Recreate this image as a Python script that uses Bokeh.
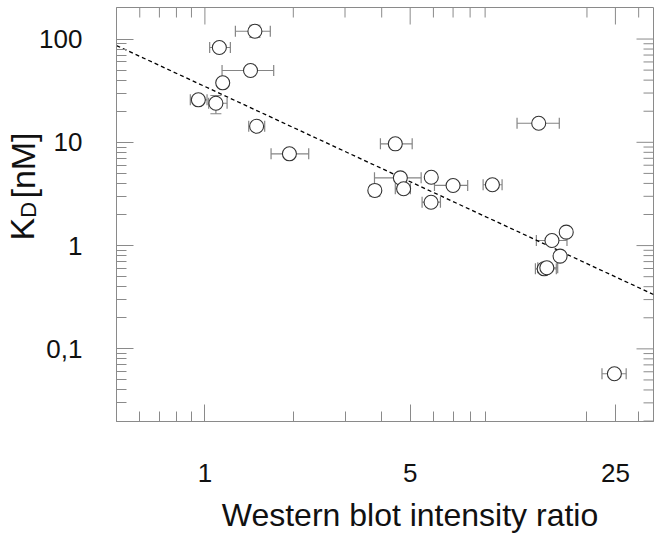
import numpy as np
from bokeh.plotting import figure
from bokeh.models import (FixedTicker, CustomJSTickFormatter, Range1d, LinearAxis,
                          LinearScale)
from bokeh.embed import file_html
from bokeh.resources import INLINE

# ---- data ----
ratio = [1.48, 1.12, 1.43, 1.15, 0.95, 1.09, 1.50, 1.94, 4.45, 4.63, 3.79, 4.75,
         5.90, 7.00, 9.53, 5.89, 13.7, 15.2, 17.0, 16.2, 14.3, 14.6, 24.8]
ratio_lo = [1.27, 1.038, 1.144, 1.15, 0.892, 1.030, 1.41, 1.68, 3.96, 3.78, 3.79, 4.45,
            5.90, 6.05, 8.86, 5.49, 11.56, 13.45, 17.0, 16.2, 13.35, 13.6, 22.5]
ratio_hi = [1.67, 1.221, 1.715, 1.15, 1.017, 1.190, 1.598, 2.257, 5.08, 5.45, 3.79, 5.01,
            5.90, 7.85, 10.28, 6.34, 16.1, 17.1, 17.0, 16.2, 15.73, 15.9, 27.2]
kd = [119, 82.8, 49.6, 37.7, 25.8, 23.9, 14.3, 7.74, 9.67, 4.53, 3.42, 3.55,
      4.59, 3.82, 3.88, 2.63, 15.3, 1.12, 1.35, 0.79, 0.596, 0.61, 0.0574]

# points with vertical error bars
yerr_ratio = [1.48, 1.09, 3.79]
yerr_lo = [104, 18.9, 3.01]
yerr_hi = [136, 28.4, 3.82]

# regression line end points
fit_x = [0.5, 33.7]
fit_y = [86.5, 0.336]

x_major = [1, 5, 25]
x_minor = [0.6, 0.7, 0.8, 0.9, 2, 3, 4, 6, 7, 8, 9, 20, 30]
y_major = [0.1, 1, 10, 100]
y_minor = [0.02, 0.03, 0.04, 0.05, 0.06, 0.07, 0.08, 0.09,
           0.2, 0.3, 0.4, 0.5, 0.6, 0.7, 0.8, 0.9,
           2, 3, 4, 5, 6, 7, 8, 9,
           20, 30, 40, 50, 60, 70, 80, 90]

x_label = "Western blot intensity ratio"
y_label_main, y_label_sub, y_label_unit = "K", "D", "[nM]"

# ---- layout constants ----
X0, X1 = 0.5, 33.7
Y0, Y1 = 0.0198, 202
FL, FR, FT, FB = 116, 653, 7, 421      # frame edges in canvas pixels
XLAB_CX = 409.5                         # centre of x title
K_CY, D_CY, U_CY = 228.6, 209.4, 165.0  # centres of the y-title pieces

GRAY = "#8a8a8a"
BAR = "#858585"
FONT = "Liberation Sans"
TXT = "#111111"

p = figure(width=660, height=544, x_axis_type="log", y_axis_type="log",
           x_range=Range1d(X0, X1), y_range=Range1d(Y0, Y1),
           output_backend="svg", toolbar_location=None,
           min_border_left=FL, min_border_right=660 - FR, min_border_top=FT,
           min_border_bottom=544 - FB)
p.grid.visible = False
p.outline_line_color = GRAY
p.outline_line_width = 1
p.background_fill_color = "white"
p.border_fill_color = "white"

# pixel-based helper ranges for placing the titles
p.extra_x_ranges = {"px": Range1d(FL, FR)}
p.extra_x_scales = {"px": LinearScale()}
p.extra_y_ranges = {"px": Range1d(FB, FT)}
p.extra_y_scales = {"px": LinearScale()}

xt = FixedTicker(ticks=x_major, minor_ticks=x_minor)
yt = FixedTicker(ticks=y_major, minor_ticks=y_minor)
yfmt = CustomJSTickFormatter(code="return String(tick).replace('.', ',');")


def style(ax, ticker):
    ax.ticker = ticker
    ax.major_tick_in = 17
    ax.major_tick_out = 0
    ax.minor_tick_in = 10
    ax.minor_tick_out = 0
    ax.major_tick_line_color = GRAY
    ax.minor_tick_line_color = GRAY
    ax.axis_line_color = GRAY
    ax.major_label_text_font = FONT
    ax.major_label_text_color = TXT
    ax.major_label_text_font_size = "26px"


bx = p.below[0]
ly = p.left[0]
style(bx, xt)
style(ly, yt)
bx.major_label_standoff = 42
ly.major_label_standoff = 34
ly.formatter = yfmt


def title_axis(cls_kw, ticks, fmt, size, standoff, orient="horizontal"):
    ax = LinearAxis(ticker=FixedTicker(ticks=ticks), formatter=fmt,
                    major_label_standoff=standoff,
                    major_label_text_font=FONT, major_label_text_font_size=size,
                    major_label_text_color=TXT, major_label_orientation=orient,
                    axis_line_color=None, major_tick_line_color=None,
                    minor_tick_line_color=None, major_tick_in=0, major_tick_out=0,
                    minor_tick_in=0, minor_tick_out=0, **cls_kw)
    return ax


# x title
xl = title_axis(dict(x_range_name="px"), [XLAB_CX],
                CustomJSTickFormatter(args=dict(t=x_label), code="return t;"),
                "32px", 12)
p.add_layout(xl, "below")

# y title: subscript piece first (closer to the frame), then the main pieces
dl = title_axis(dict(y_range_name="px"), [D_CY],
                CustomJSTickFormatter(args=dict(t=y_label_sub), code="return t;"),
                "22px", -5, "vertical")
p.add_layout(dl, "left")
kl = title_axis(dict(y_range_name="px"), [K_CY, U_CY],
                CustomJSTickFormatter(args=dict(a=y_label_main, b=y_label_unit, m=(K_CY + U_CY) / 2),
                                      code="return tick > m ? a : b;"),
                "34px", -28, "vertical")
p.add_layout(kl, "left")

# mirrored ticks on top and right edges (dash markers centred on the edge,
# clipped by the frame so only the inner half shows)
p.scatter(x=x_major, y=[Y1] * len(x_major), marker="dash", angle=np.pi / 2,
          size=34, line_color=GRAY, line_width=1)
p.scatter(x=x_minor, y=[Y1] * len(x_minor), marker="dash", angle=np.pi / 2,
          size=20, line_color=GRAY, line_width=1)
p.scatter(x=[X1] * len(y_major), y=y_major, marker="dash",
          size=34, line_color=GRAY, line_width=1)
p.scatter(x=[X1] * len(y_minor), y=y_minor, marker="dash",
          size=20, line_color=GRAY, line_width=1)

# error bars
p.segment(x0=ratio_lo, y0=kd, x1=ratio_hi, y1=kd, line_color=BAR, line_width=1.2)
p.scatter(x=ratio_lo + ratio_hi, y=kd + kd, marker="dash", angle=np.pi / 2,
          size=11, line_color=BAR, line_width=1.2)
p.segment(x0=yerr_ratio, y0=yerr_lo, x1=yerr_ratio, y1=yerr_hi, line_color=BAR, line_width=1.2)
p.scatter(x=yerr_ratio + yerr_ratio, y=yerr_lo + yerr_hi, marker="dash",
          size=11, line_color=BAR, line_width=1.2)

# fit line
p.line(fit_x, fit_y, line_dash="4 3", line_color="black", line_width=1.3)

# points
p.scatter(ratio, kd, marker="circle", size=14, fill_color="white",
          line_color="#333333", line_width=1.1)

open("out.html", "w").write(file_html(p, INLINE))
